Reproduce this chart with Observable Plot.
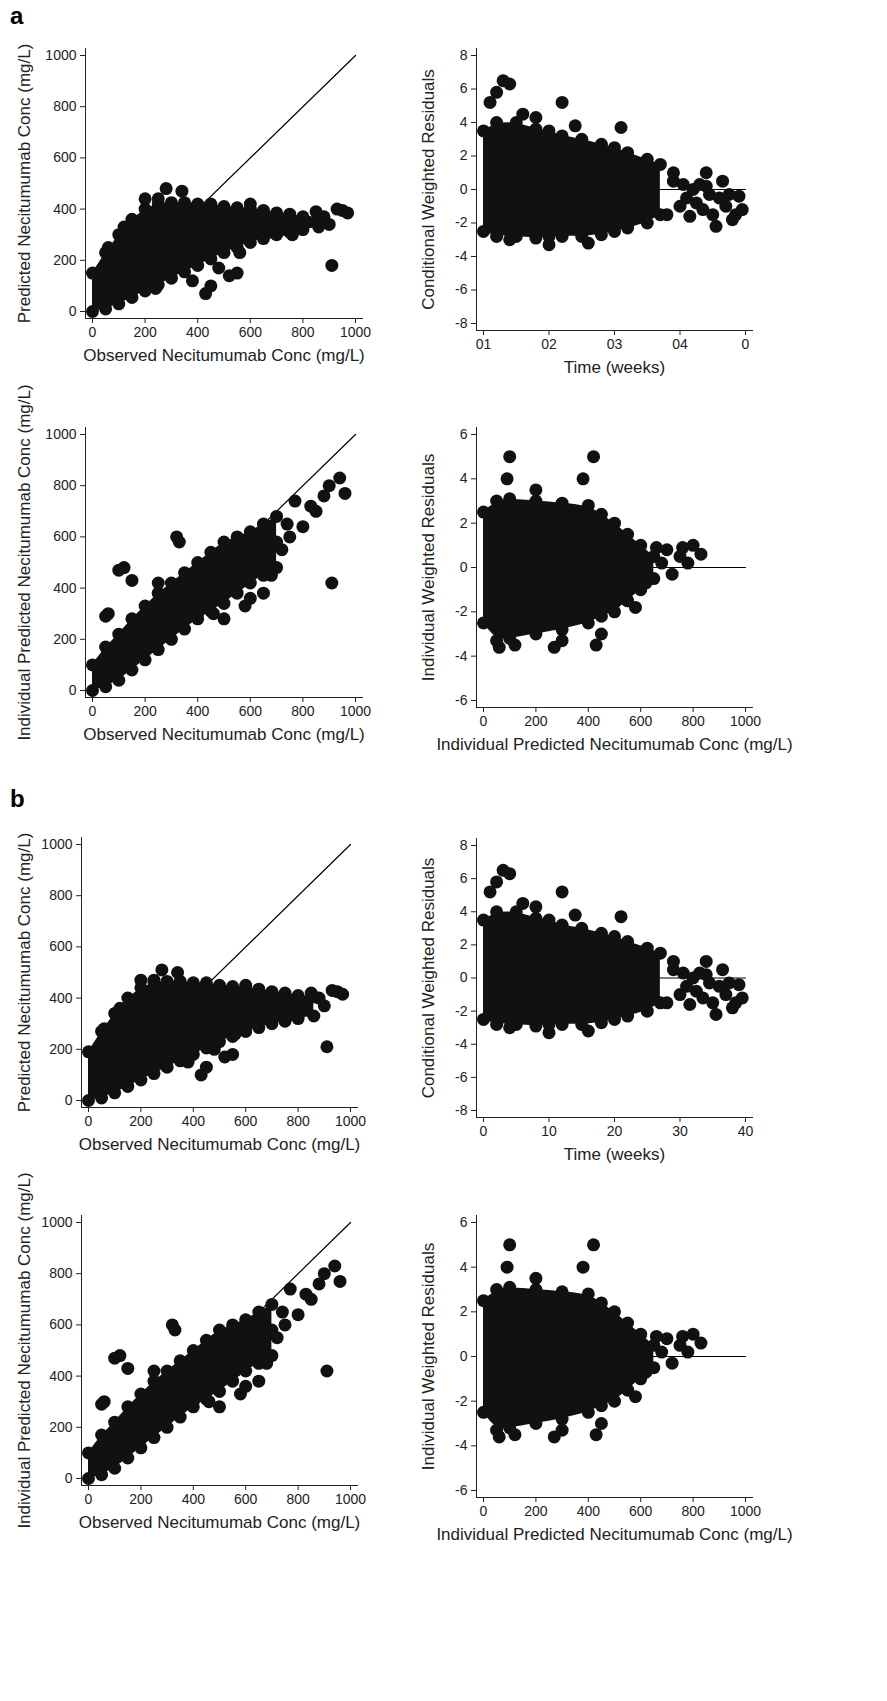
<!DOCTYPE html>
<html><head><meta charset="utf-8">
<script src="https://cdn.jsdelivr.net/npm/d3@7"></script>
<script src="https://cdn.jsdelivr.net/npm/@observablehq/plot@0.6"></script>
<style>
body{margin:0;background:#fff;font-family:"Liberation Sans",Arial,sans-serif}
#wrap{position:relative;width:887px;height:1701px}
#wrap svg{position:absolute;left:0;top:0;background:none}
.tag{position:absolute;font-weight:bold;font-size:24px;left:10px}
</style></head><body>
<div id="wrap"><div class="tag" style="top:2px">a</div><div class="tag" style="top:785px">b</div></div>
<script>
// Population predicted vs observed (dense core + scattered points)
const predCoreX  = [0, 50, 100, 150, 200, 250, 300, 350, 400, 450, 500, 550, 600, 650, 700, 750, 800, 860];
const predCoreLo = [0, 10, 30, 55, 80, 105, 130, 155, 180, 205, 230, 250, 270, 285, 300, 310, 320, 330];
const predCoreHi = [150, 230, 300, 360, 400, 420, 425, 425, 420, 420, 410, 405, 400, 395, 385, 380, 370, 365];
const predOutX = [910, 950, 970, 930, 850, 820, 780, 720, 680, 640, 600, 550, 520, 450, 430, 280, 340, 120, 60, 250, 200, 160, 880, 900, 760, 560, 480, 380, 240];
const predOutY = [180, 395, 385, 400, 390, 350, 330, 320, 310, 380, 420, 150, 140, 100, 70, 480, 470, 330, 250, 440, 440, 300, 370, 340, 300, 230, 170, 120, 90];

// Individual predicted vs observed
const ipCoreX  = [0, 50, 100, 150, 200, 250, 300, 350, 400, 450, 500, 550, 600, 650, 700];
const ipCoreLo = [0, 15, 40, 80, 120, 160, 200, 240, 280, 310, 340, 380, 420, 450, 480];
const ipCoreHi = [100, 170, 220, 280, 330, 380, 420, 460, 500, 540, 580, 600, 620, 650, 680];
const ipOutX = [910, 940, 960, 900, 880, 850, 800, 750, 720, 680, 650, 600, 580, 500, 320, 330, 120, 100, 150, 60, 50, 250, 400, 770, 830, 700, 740, 620, 460, 560];
const ipOutY = [420, 830, 770, 800, 760, 700, 640, 600, 550, 450, 380, 360, 330, 280, 600, 580, 480, 470, 430, 300, 290, 420, 300, 740, 720, 580, 650, 500, 300, 420];

// Conditional weighted residuals vs time (weeks)
const cwCoreX  = [0, 2, 5, 8, 10, 12, 15, 18, 20, 22, 25, 27];
const cwCoreLo = [-2.5, -2.8, -2.8, -2.9, -2.8, -2.8, -2.8, -2.7, -2.5, -2.3, -2.0, -1.5];
const cwCoreHi = [3.5, 4.0, 4.0, 3.6, 3.5, 3.2, 3.0, 2.7, 2.5, 2.2, 1.8, 1.5];
const cwOutX = [28, 29, 30, 30.5, 31, 31.5, 32, 32.5, 33, 33.5, 34, 34.5, 35, 35.5, 36, 36.5, 37, 37.5, 38, 38.5, 39, 39.5, 2, 3, 4, 1, 6, 12, 14, 21, 8, 4, 10, 16, 29, 34];
const cwOutY = [-1.5, 0.5, -1, 0.3, -0.5, -1.6, 0, -0.8, 0.3, -1.2, 1, -0.3, -1.5, -2.2, -0.5, 0.5, -1, -0.3, -1.8, -1.5, -0.4, -1.2, 5.8, 6.5, 6.3, 5.2, 4.5, 5.2, 3.8, 3.7, 4.3, -3.0, -3.3, -3.2, 1.0, 0.2];

// Individual weighted residuals vs individual predicted
const iwCoreX  = [0, 50, 100, 200, 300, 400, 450, 500, 550, 600, 650];
const iwCoreLo = [-2.5, -3.3, -3.2, -3.0, -2.8, -2.5, -2.2, -2.0, -1.5, -1.0, -0.5];
const iwCoreHi = [2.5, 3.0, 3.1, 3.0, 2.9, 2.8, 2.4, 2.0, 1.5, 1.0, 0.5];
const iwOutX = [100, 420, 90, 380, 200, 700, 750, 800, 830, 780, 720, 680, 580, 550, 450, 430, 270, 120, 60, 760, 660, 620, 300];
const iwOutY = [5.0, 5.0, 4.0, 4.0, 3.5, 0.8, 0.5, 1.0, 0.6, 0.2, -0.3, 0.2, -1.8, -1.5, -3.0, -3.5, -3.6, -3.5, -3.6, 0.9, 0.9, -0.7, -3.3];

const concTicks = [0, 200, 400, 600, 800, 1000];
const timeTicks = [0, 10, 20, 30, 40];
const timeLabelsA = ["01", "02", "03", "04", "0"];
const timeLabelsB = ["0", "10", "20", "30", "40"];

const obsLabel = "Observed Necitumumab Conc (mg/L)";
const predLabel = "Predicted Necitumumab Conc (mg/L)";
const ipredLabel = "Individual Predicted Necitumumab Conc (mg/L)";
const cwLabel = "Conditional Weighted Residuals";
const iwLabel = "Individual Weighted Residuals";

const W = 887, H = 1701, INS = 7;
const ink = "#111";

function panel(g) {
  const core = g.coreX.map((x, i) => ({x, lo: g.coreLo[i], hi: g.coreHi[i]}));
  const pts = g.outX.map((x, i) => ({x, y: g.outY[i]}));
  const edges = core.flatMap(d => [{x: d.x, y: d.lo}, {x: d.x, y: d.hi}]);
  return Plot.plot({
    width: W, height: H,
    marginLeft: g.x0 - INS, marginRight: W - g.x1 - INS,
    marginTop: g.yTop - INS, marginBottom: H - g.yBot - INS,
    style: {background: "none", fontFamily: "Liberation Sans, Arial, sans-serif", fontSize: "14px", color: "#222"},
    x: {domain: g.xDomain, inset: INS},
    y: {domain: g.yDomain, inset: INS},
    marks: [
      Plot.frame({anchor: "left", stroke: "#222"}),
      Plot.frame({anchor: "bottom", stroke: "#222"}),
      Plot.line(g.ref, {x: d => d[0], y: d => d[1], stroke: "#000", strokeWidth: 1.2}),
      Plot.areaY(core, {x: "x", y1: "lo", y2: "hi", curve: "basis", fill: ink}),
      Plot.dot(edges, {x: "x", y: "y", r: 6.5, fill: ink}),
      Plot.dot(pts, {x: "x", y: "y", r: 6.5, fill: ink}),
      Plot.axisX({ticks: g.xTicks, tickFormat: g.xFmt, tickSize: 5, tickPadding: 4, label: g.xLabel,
        labelAnchor: "center", labelArrow: "none", labelOffset: 42, fontSize: 14}),
      Plot.axisY({ticks: g.yTicks, tickFormat: d => String(d), tickSize: 5, tickPadding: 4, label: g.yLabel,
        labelAnchor: "center", labelArrow: "none", labelOffset: g.yLabOff, fontSize: 14})
    ]
  });
}

const resTicks8 = [-8, -6, -4, -2, 0, 2, 4, 6, 8];
const resTicks6 = [-6, -4, -2, 0, 2, 4, 6];
const concFmt = d => String(d);
const tFmt = labels => d => labels[timeTicks.indexOf(d)];

const specs = [
  {x0: 92, x1: 355, yTop: 55, yBot: 311, xDomain: [0, 1000], yDomain: [0, 1000], coreX: predCoreX, coreLo: predCoreLo, coreHi: predCoreHi, outX: predOutX, outY: predOutY,
   ref: [[0, 0], [1000, 1000]], xTicks: concTicks, xFmt: concFmt, yTicks: concTicks, xLabel: obsLabel, yLabel: predLabel, yLabOff: 68},
  {x0: 483, x1: 745, yTop: 55, yBot: 323, xDomain: [0, 40], yDomain: [-8, 8], coreX: cwCoreX, coreLo: cwCoreLo, coreHi: cwCoreHi, outX: cwOutX, outY: cwOutY,
   ref: [[0, 0], [40, 0]], xTicks: timeTicks, xFmt: tFmt(timeLabelsA), yTicks: resTicks8, xLabel: "Time (weeks)", yLabel: cwLabel, yLabOff: 55},
  {x0: 92, x1: 355, yTop: 434, yBot: 690, xDomain: [0, 1000], yDomain: [0, 1000], coreX: ipCoreX, coreLo: ipCoreLo, coreHi: ipCoreHi, outX: ipOutX, outY: ipOutY,
   ref: [[0, 0], [1000, 1000]], xTicks: concTicks, xFmt: concFmt, yTicks: concTicks, xLabel: obsLabel, yLabel: ipredLabel, yLabOff: 68},
  {x0: 483, x1: 745, yTop: 434, yBot: 700, xDomain: [0, 1000], yDomain: [-6, 6], coreX: iwCoreX, coreLo: iwCoreLo, coreHi: iwCoreHi, outX: iwOutX, outY: iwOutY,
   ref: [[0, 0], [1000, 0]], xTicks: concTicks, xFmt: concFmt, yTicks: resTicks6, xLabel: ipredLabel, yLabel: iwLabel, yLabOff: 55},
  {x0: 88, x1: 350, yTop: 844, yBot: 1100, xDomain: [0, 1000], yDomain: [0, 1000], coreX: predCoreX, coreLo: predCoreLo, coreHi: predCoreHi.map(v => v + 40), outX: predOutX, outY: predOutY.map(v => v + 30),
   ref: [[0, 0], [1000, 1000]], xTicks: concTicks, xFmt: concFmt, yTicks: concTicks, xLabel: obsLabel, yLabel: predLabel, yLabOff: 64},
  {x0: 483, x1: 745, yTop: 845, yBot: 1110, xDomain: [0, 40], yDomain: [-8, 8], coreX: cwCoreX, coreLo: cwCoreLo, coreHi: cwCoreHi, outX: cwOutX, outY: cwOutY,
   ref: [[0, 0], [40, 0]], xTicks: timeTicks, xFmt: tFmt(timeLabelsB), yTicks: resTicks8, xLabel: "Time (weeks)", yLabel: cwLabel, yLabOff: 55},
  {x0: 88, x1: 350, yTop: 1222, yBot: 1478, xDomain: [0, 1000], yDomain: [0, 1000], coreX: ipCoreX, coreLo: ipCoreLo, coreHi: ipCoreHi, outX: ipOutX, outY: ipOutY,
   ref: [[0, 0], [1000, 1000]], xTicks: concTicks, xFmt: concFmt, yTicks: concTicks, xLabel: obsLabel, yLabel: ipredLabel, yLabOff: 64},
  {x0: 483, x1: 745, yTop: 1222, yBot: 1490, xDomain: [0, 1000], yDomain: [-6, 6], coreX: iwCoreX, coreLo: iwCoreLo, coreHi: iwCoreHi, outX: iwOutX, outY: iwOutY,
   ref: [[0, 0], [1000, 0]], xTicks: concTicks, xFmt: concFmt, yTicks: resTicks6, xLabel: ipredLabel, yLabel: iwLabel, yLabOff: 55}
];

const wrap = document.getElementById("wrap");
for (const s of specs) {
  const p = panel(s);
  d3.select(p).selectAll("[aria-label='x-axis label'] text, [aria-label='y-axis label'] text").style("font-size", "17px");
  wrap.appendChild(p);
}
</script>
</body></html>
